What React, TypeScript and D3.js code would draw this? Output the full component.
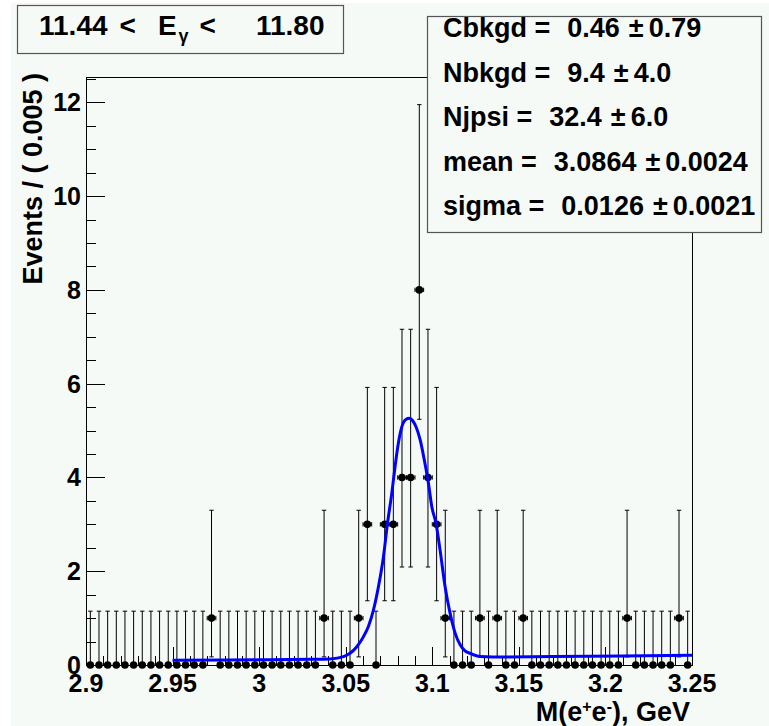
import React from 'react';
import * as d3 from 'd3';

// ---------- data ----------
const xMin = 2.9;
const xMax = 3.25;
const binWidth = 0.005;
const yMax = 12.54;

// events per bin (70 bins of 0.005 GeV from 2.9 to 3.25)
const counts = [
  0, 0, 0, 0, 0, 0, 0, 0, 0, 0, 0, 0, 0, 0,
  1,
  0, 0, 0, 0, 0, 0, 0, 0, 0, 0, 0, 0,
  1, 0, 0, 0, 1, 3, 0, 3, 3, 4, 4, 8, 4, 3, 1,
  0, 0, 0, 1, 0, 1, 0, 0, 1,
  0, 0, 0, 0, 0, 0, 0, 0, 0, 0, 0,
  1, 0, 0, 0, 0, 0, 1, 0,
];

// asymmetric (Poisson) error bar ends, keyed by count
const errLowByCount: Record<number, number> = { 0: 0, 1: 0.173, 3: 1.37, 4: 2.09, 8: 5.24 };
const errHighByCount: Record<number, number> = { 0: 1.148, 1: 3.3, 3: 5.92, 4: 7.16, 8: 11.95 };

// fitted curve
const curveX = [2.95, 3.0, 3.03, 3.041, 3.0487, 3.0525, 3.0564, 3.0602, 3.0631, 3.066, 3.0689, 3.0718,
  3.0741, 3.0766, 3.0785, 3.0804, 3.0824, 3.0849, 3.0866, 3.0887, 3.0906, 3.093, 3.0954, 3.0978,
  3.0997, 3.1022, 3.1045, 3.1074, 3.1103, 3.1132, 3.1161, 3.1189, 3.1218, 3.1276, 3.135, 3.17, 3.21, 3.25];
const curveY = [0.10, 0.11, 0.12, 0.13, 0.18, 0.25, 0.39, 0.60, 0.82, 1.17, 1.67, 2.31,
  3.01, 3.66, 4.23, 4.73, 5.08, 5.24, 5.26, 5.21, 5.08, 4.80, 4.37, 3.87,
  3.38, 3.01, 2.45, 1.67, 1.10, 0.68, 0.43, 0.30, 0.25, 0.18, 0.17, 0.18, 0.19, 0.21];

const xTicks = [2.9, 2.95, 3.0, 3.05, 3.1, 3.15, 3.2, 3.25];
const xTickLabels = ['2.9', '2.95', '3', '3.05', '3.1', '3.15', '3.2', '3.25'];
const yTicks = [0, 2, 4, 6, 8, 10, 12];
const yTickLabels = ['0', '2', '4', '6', '8', '10', '12'];

const statNames = ['Cbkgd', 'Nbkgd', 'Njpsi', 'mean', 'sigma'];
const statValues = ['0.46', '9.4', '32.4', '3.0864', '0.0126'];
const statErrors = ['0.79', '4.0', '6.0', '0.0024', '0.0021'];

const titleLow = '11.44';
const titleHigh = '11.80';
const yTitle = 'Events / ( 0.005 )';

// ---------- layout ----------
const W = 769;
const H = 726;
const left = 86;
const right = 692;
const top = 77;
const bottom = 665;
const BG = '#f6faf7';
const FONT = '"Liberation Sans", Arial, Helvetica, sans-serif';

export default function App() {
  const x = d3.scaleLinear().domain([xMin, xMax]).range([left, right]);
  const y = d3.scaleLinear().domain([0, yMax]).range([bottom, top]);

  const nBins = counts.length;
  const binCenters = d3.range(nBins).map((i) => xMin + binWidth * (i + 0.5));
  const half = (x(xMin + binWidth) - x(xMin)) / 2;

  const minorX = d3.range(0, 36).map((i) => xMin + i * 0.01);
  const minorY = d3.range(0, 26).map((i) => i * 0.5);

  const line = d3
    .line<number>()
    .x((_, i) => x(curveX[i]))
    .y((d) => y(d))
    .curve(d3.curveMonotoneX);

  const capW = 2.2;
  const r = 3.8;

  const textStyle: React.CSSProperties = { whiteSpace: 'pre' };

  return (
    <svg
      width={W}
      height={H}
      viewBox={`0 0 ${W} ${H}`}
      style={{ position: 'absolute', left: 0, top: 0, display: 'block' }}
      fontFamily={FONT}
      fontWeight="bold"
    >
      <rect x={0} y={0} width={W} height={H} fill="#ffffff" />
      <rect x={11} y={3} width={W - 11} height={H - 3} fill={BG} />

      {/* frame */}
      <rect
        x={left + 0.5}
        y={top + 0.5}
        width={right - left}
        height={bottom - top}
        fill="none"
        stroke="#000"
        strokeWidth={1}
        shapeRendering="crispEdges"
      />

      {/* ticks */}
      <g stroke="#000" strokeWidth={1} shapeRendering="crispEdges">
        {minorY.map((v) => {
          const major = v % 2 === 0;
          const yy = Math.round(y(v)) + 0.5;
          return <line key={'ym' + v} x1={left} x2={left + (major ? 19 : 10)} y1={yy} y2={yy} />;
        })}
        {minorX.map((v, i) => {
          const major = i % 5 === 0;
          const xx = Math.round(x(v)) + 0.5;
          return <line key={'xm' + i} x1={xx} x2={xx} y1={bottom} y2={bottom - (major ? 18 : 9)} />;
        })}
      </g>

      {/* tick labels */}
      <g fontSize={25} fill="#000">
        {yTicks.map((v, i) => (
          <text key={'yl' + v} x={81} y={y(v)} textAnchor="end" dominantBaseline="central">
            {yTickLabels[i]}
          </text>
        ))}
        {xTicks.map((v, i) => (
          <text key={'xl' + v} x={x(v)} y={692} textAnchor="middle">
            {xTickLabels[i]}
          </text>
        ))}
      </g>

      {/* axis titles */}
      <text
        transform={`translate(42,73) rotate(-90)`}
        textAnchor="end"
        fontSize={27}
        style={textStyle}
      >
        {yTitle}
      </text>
      <text x={690} y={721} textAnchor="end" fontSize={27} style={textStyle}>
        <tspan>M(e</tspan>
        <tspan fontSize={16} dy={-9}>+</tspan>
        <tspan dy={9}>e</tspan>
        <tspan fontSize={16} dy={-9}>-</tspan>
        <tspan dy={9}>), GeV</tspan>
      </text>

      {/* data: error bars */}
      <g stroke="#000" strokeWidth={1}>
        {counts.map((c, i) => {
          const cx = x(binCenters[i]);
          const loV = y(errLowByCount[c]);
          const hiV = y(errHighByCount[c]);
          const cy = y(c);
          return (
            <g key={'e' + i}>
              <line x1={cx} x2={cx} y1={loV} y2={hiV} />
              <line x1={cx - capW} x2={cx + capW} y1={hiV} y2={hiV} />
              {c > 0 && <line x1={cx - capW} x2={cx + capW} y1={loV} y2={loV} />}
              {c > 0 && <line x1={cx - half} x2={cx + half} y1={cy} y2={cy} />}
              {c > 0 && <line x1={cx - half} x2={cx - half} y1={cy - capW} y2={cy + capW} />}
              {c > 0 && <line x1={cx + half} x2={cx + half} y1={cy - capW} y2={cy + capW} />}
            </g>
          );
        })}
      </g>
      {/* data: markers */}
      <g fill="#000">
        {counts.map((c, i) => (
          <circle key={'m' + i} cx={x(binCenters[i])} cy={y(c)} r={r} />
        ))}
      </g>

      {/* fit curve */}
      <path d={line(curveY) || ''} fill="none" stroke="#0000ff" strokeWidth={3} />

      {/* stat box */}
      <rect x={427.5} y={16.5} width={334} height={216} fill={BG} stroke="#555" strokeWidth={1.2} />
      <g fontSize={27} fill="#000" style={textStyle}>
        {statNames.map((n, i) => (
          <text key={'s' + n} x={443} y={37 + i * 44.5}>
            <tspan>{n} =</tspan>
            <tspan dx={17}>{statValues[i]}</tspan>
            <tspan dx={9}>±</tspan>
            <tspan dx={5}>{statErrors[i]}</tspan>
          </text>
        ))}
      </g>

      {/* title box */}
      <rect x={17.5} y={5.5} width={326} height={48} fill={BG} stroke="#555" strokeWidth={1.2} />
      <text x={39} y={35} fontSize={28} style={textStyle}>
        <tspan>{titleLow}</tspan>
        <tspan dx={12}>&lt;</tspan>
        <tspan dx={22}>E</tspan>
        <tspan fontSize={18} dy={7} dx={2}>γ</tspan>
        <tspan dy={-7} dx={11}>&lt;</tspan>
        <tspan dx={40}>{titleHigh}</tspan>
      </text>
    </svg>
  );
}
